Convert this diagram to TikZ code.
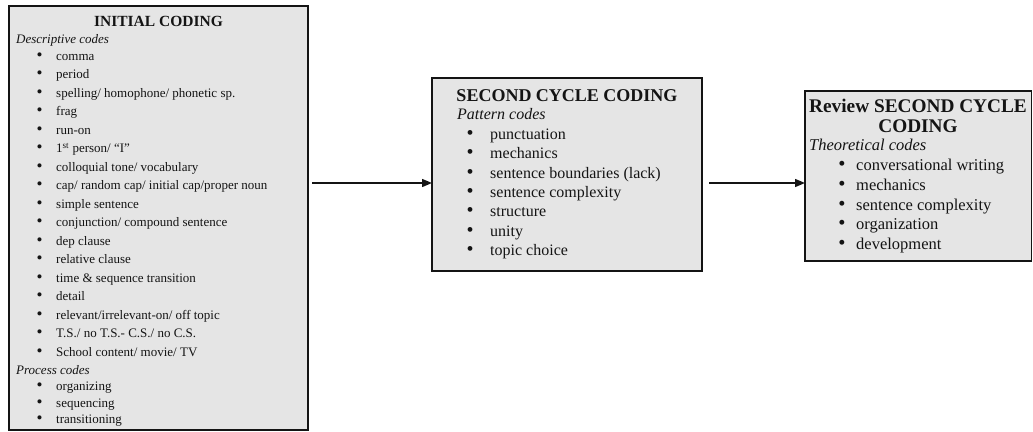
\documentclass[tikz,border=0pt]{standalone}
\usepackage{fontspec}
\setmainfont{Liberation Serif}
\usetikzlibrary{arrows.meta}
\definecolor{boxfill}{RGB}{229,229,229}
\definecolor{ink}{RGB}{20,20,20}
\begin{document}
\begin{tikzpicture}[x=1pt,y=-1pt,
  codebox/.style={draw=ink, line width=1.6pt, fill=boxfill, rectangle, anchor=north west, inner sep=0pt, outer sep=0pt},
  arr/.style={draw=ink, line width=1.4pt, -{Triangle[length=10pt,width=8pt]}},
  txt/.style={anchor=base west, inner sep=0pt, text=ink},
  ttl/.style={anchor=base, inner sep=0pt, text=ink},
  bul/.style={anchor=base, inner sep=0pt, text=ink},
  fA/.style={font=\fontsize{13}{15}\selectfont},
  fAb/.style={font=\fontsize{17}{15}\selectfont},
  fAi/.style={font=\fontsize{13}{15}\selectfont\itshape},
  fAt/.style={font=\fontsize{15.5}{18}\selectfont\bfseries},
  fB/.style={font=\fontsize{16}{19}\selectfont},
  fBb/.style={font=\fontsize{20}{19}\selectfont},
  fBi/.style={font=\fontsize{16}{19}\selectfont\itshape},
  fBt/.style={font=\fontsize{18}{21}\selectfont\bfseries},
  fC/.style={font=\fontsize{16.5}{19}\selectfont},
  fCb/.style={font=\fontsize{20.5}{19}\selectfont},
  fCi/.style={font=\fontsize{16.5}{19}\selectfont\itshape},
  fCt/.style={font=\fontsize{19.3}{21}\selectfont\bfseries},
]
\useasboundingbox[fill=white] (0,0) rectangle (1033,431);

% ---------- Box 1 ----------
\node[codebox, minimum width=299pt, minimum height=424pt] (b1) at (9,6) {};
\node[ttl, fAt] (b1t) at (158.5,26) {INITIAL CODING};
\node[txt, fAi] (b1d) at (16,43.3) {Descriptive codes};
\foreach \t [count=\i from 0] in {comma, period, spelling/ homophone/ phonetic sp., frag, run-on,
  {1\textsuperscript{st} person/ “I”}, colloquial tone/ vocabulary,
  cap/ random cap/ initial cap/proper noun, simple sentence,
  conjunction/ compound sentence, dep clause, relative clause,
  time \& sequence transition, detail, relevant/irrelevant-on/ off topic,
  T.S./ no T.S.- C.S./ no C.S., School content/ movie/ TV}{
  \node[bul, fAb] (b1b\i) at (39.5,{60.3+18.5*\i}) {•};
  \node[txt, fA] (b1i\i) at (56,{60.3+18.5*\i}) {\t};
}
\node[txt, fAi] (b1p) at (16,374) {Process codes};
\foreach \t/\yy [count=\i] in {organizing/390, sequencing/407, transitioning/423}{
  \node[bul, fAb] (b1pb\i) at (39.5,\yy) {•};
  \node[txt, fA] (b1pi\i) at (56,\yy) {\t};
}

% ---------- Box 2 ----------
\node[codebox, minimum width=270pt, minimum height=193pt] (b2) at (432,78) {};
\node[ttl, fBt] (b2t) at (567,101) {SECOND CYCLE CODING};
\node[txt, fBi] (b2d) at (457,119) {Pattern codes};
\foreach \t [count=\i from 0] in {punctuation, mechanics, sentence boundaries (lack),
  sentence complexity, structure, unity, topic choice}{
  \node[bul, fBb] (b2b\i) at (470,{139.5+19.33*\i}) {•};
  \node[txt, fB] (b2i\i) at (490,{139.5+19.33*\i}) {\t};
}

% ---------- Box 3 ----------
\node[codebox, minimum width=226.5pt, minimum height=170pt] (b3) at (805,91) {};
\node[ttl, fCt] (b3t1) at (918,112) {Review SECOND CYCLE};
\node[ttl, fCt] (b3t2) at (918,132) {CODING};
\node[txt, fCi] (b3d) at (809,150) {Theoretical codes};
\foreach \t [count=\i from 0] in {conversational writing, mechanics, sentence complexity,
  organization, development}{
  \node[bul, fCb] (b3b\i) at (842,{170.5+19.8*\i}) {•};
  \node[txt, fC] (b3i\i) at (856,{170.5+19.8*\i}) {\t};
}

% ---------- Arrows ----------
\coordinate (a1s) at (312,183);
\coordinate (a2s) at (709,183);
\draw[arr] (a1s) -- (a1s -| b2.west);
\draw[arr] (a2s) -- (a2s -| b3.west);
\end{tikzpicture}
\end{document}
